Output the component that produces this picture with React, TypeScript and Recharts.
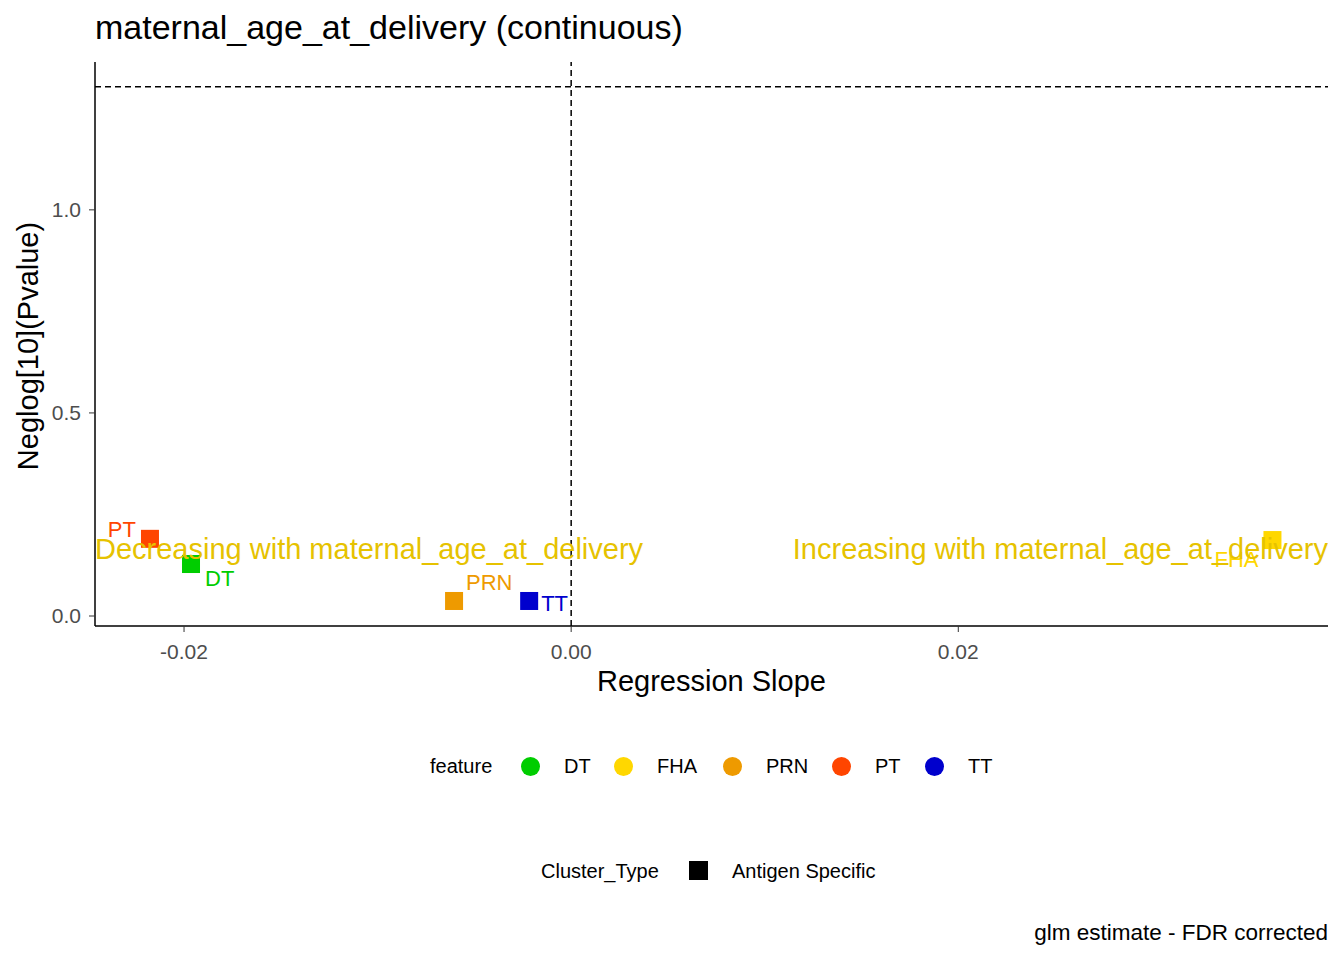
import React from "react";
import { ScatterChart, Scatter, XAxis, YAxis, ReferenceLine } from "recharts";

const features = ["DT", "FHA", "PRN", "PT", "TT"];
const colors = ["#00CD00", "#FFD700", "#EE9A00", "#FF4500", "#0000CD"];
const slopes = [-0.01964, 0.03623, -0.00605, -0.02176, -0.00217];
const neglogP = [0.128, 0.187, 0.037, 0.19, 0.037];
const xTicks = [-0.02, 0, 0.02];
const yTicks = [0, 0.5, 1.0];
const xDomain = [-0.0246, 0.0391];
const yDomain = [-0.0246, 1.364];
const threshold = 1.303;
const annotationY = 0.16;
const annoColor = "#E6C200";

const labelOffsets: Record<string, [number, number, string]> = {
  DT: [14, 16, "start"],
  FHA: [-14, 21, "end"],
  PRN: [12, -17, "start"],
  PT: [-14, -8, "end"],
  TT: [12, 4, "start"],
};

const data = features.map((f, i) => ({ name: f, x: slopes[i], y: neglogP[i], color: colors[i] }));
const annotations = [
  { x: xDomain[0], y: annotationY, text: "Decreasing with maternal_age_at_delivery", anchor: "start" },
  { x: xDomain[1], y: annotationY, text: "Increasing with maternal_age_at_delivery", anchor: "end" },
];

const PointShape = (p: any) => {
  const { cx, cy, payload } = p;
  const [dx, dy, anchor] = labelOffsets[payload.name];
  return (
    <g>
      <rect x={cx - 9} y={cy - 9} width={18} height={18} fill={payload.color} />
      <text x={cx + dx} y={cy + dy} fill={payload.color} fontSize={22} textAnchor={anchor} dominantBaseline="middle" fontFamily="Arial, Liberation Sans">
        {payload.name}
      </text>
    </g>
  );
};

const AnnoShape = (p: any) => {
  const { cx, cy, payload } = p;
  return (
    <text x={cx} y={cy} fill={annoColor} fontSize={29} textAnchor={payload.anchor} dominantBaseline="middle" fontFamily="Arial, Liberation Sans">
      {payload.text}
    </text>
  );
};

const font = "Arial, 'Liberation Sans', sans-serif";
const abs = (x: number, y: number, extra: any = {}): React.CSSProperties => ({ position: "absolute", left: x - 8, top: y - 8, fontFamily: font, color: "#000", whiteSpace: "nowrap", ...extra });

export default function App() {
  return (
    <div style={{ position: "relative", width: 1336, height: 952, fontFamily: font }}>
      <ScatterChart width={1336} height={952} margin={{ top: 54, right: 16, left: 37, bottom: 294 }}>
        <XAxis type="number" dataKey="x" domain={xDomain} ticks={xTicks} allowDataOverflow height={40}
          tickFormatter={(v: number) => v.toFixed(2)} axisLine={{ stroke: "#000", strokeWidth: 1.5 }} tickLine={{ stroke: "#333" }}
          tick={{ fill: "#4D4D4D", fontSize: 21, fontFamily: font, dy: 10 }} tickSize={6} />
        <YAxis type="number" dataKey="y" domain={yDomain} ticks={yTicks} allowDataOverflow width={50}
          tickFormatter={(v: number) => v.toFixed(1)} axisLine={{ stroke: "#000", strokeWidth: 1.5 }} tickLine={{ stroke: "#333" }}
          tick={{ fill: "#4D4D4D", fontSize: 21, fontFamily: font, dx: -6 }} tickSize={6} />
        <ReferenceLine y={threshold} stroke="#000" strokeDasharray="6 4" strokeWidth={1.5} />
        <ReferenceLine x={0} stroke="#000" strokeDasharray="6 4" strokeWidth={1.5} />
        <Scatter data={data} shape={PointShape} isAnimationActive={false} />
        <Scatter data={annotations} shape={AnnoShape} isAnimationActive={false} />
      </ScatterChart>
      <div style={abs(95, 8, { fontSize: 34 })}>maternal_age_at_delivery (continuous)</div>
      <div style={abs(597, 665, { fontSize: 29 })}>Regression Slope</div>
      <div style={{ position: "absolute", left: 0, top: 338, width: 0, height: 0 }}>
        <div style={{ transform: "translate(-50%,-50%) rotate(-90deg)", fontSize: 29, whiteSpace: "nowrap", fontFamily: font, position: "absolute", left: 20, top: 0 }}>
          Neglog[10](Pvalue)
        </div>
      </div>
      <div style={abs(430, 755, { fontSize: 20 })}>feature</div>
      {features.map((f, i) => {
        const cxs = [531, 624, 733, 842, 935];
        return (
          <React.Fragment key={f}>
            <div style={abs(cxs[i] - 10, 757, { width: 19, height: 19, borderRadius: "50%", background: colors[i] })} />
            <div style={abs(cxs[i] + 33, 755, { fontSize: 20 })}>{f}</div>
          </React.Fragment>
        );
      })}
      <div style={abs(541, 860, { fontSize: 20 })}>Cluster_Type</div>
      <div style={abs(689, 861, { width: 19, height: 19, background: "#000" })} />
      <div style={abs(732, 860, { fontSize: 20 })}>Antigen Specific</div>
      <div style={{ position: "absolute", right: 1336 - 1320, top: 920 - 8, fontSize: 22.5, fontFamily: font, whiteSpace: "nowrap" }}>glm estimate - FDR corrected</div>
    </div>
  );
}
